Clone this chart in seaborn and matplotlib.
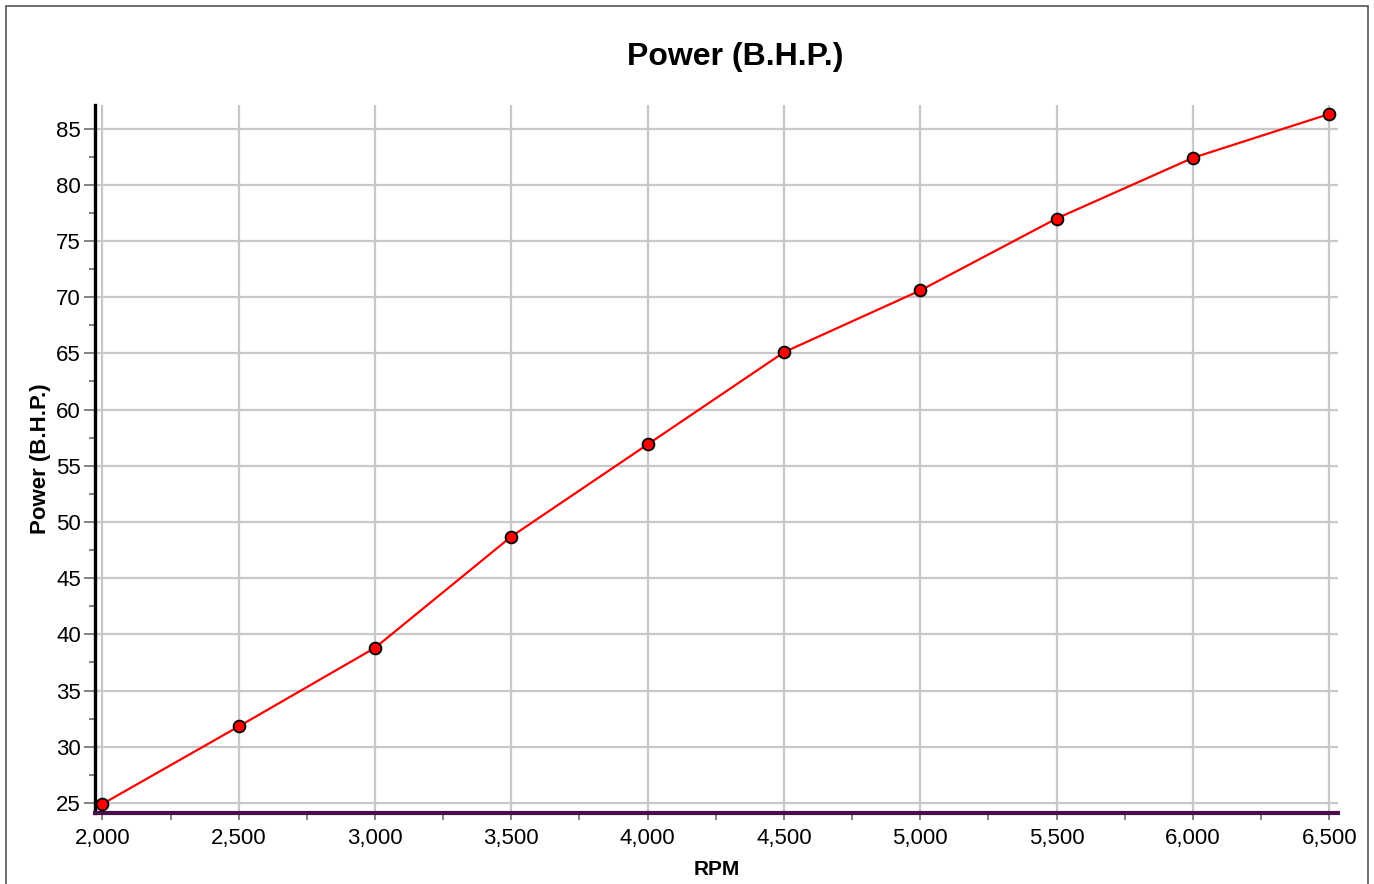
import numpy as np
import pandas as pd
import matplotlib
matplotlib.use("Agg")
import matplotlib.pyplot as plt
from matplotlib.ticker import MultipleLocator, FuncFormatter
from matplotlib.patches import Rectangle
import seaborn as sns

# Data
rpm = [2000, 2500, 3000, 3500, 4000, 4500, 5000, 5500, 6000, 6500]
power_bhp = [24.9, 31.8, 38.8, 48.7, 56.9, 65.1, 70.6, 77.0, 82.4, 86.3]

df = pd.DataFrame({"RPM": rpm, "Power (B.H.P.)": power_bhp})

sns.set_style("white")
plt.rcParams['font.family'] = ['Liberation Sans', 'DejaVu Sans']
plt.rcParams['text.color'] = 'black'
plt.rcParams['axes.labelcolor'] = 'black'
plt.rcParams['xtick.color'] = 'black'
plt.rcParams['ytick.color'] = 'black'

fig = plt.figure(figsize=(13.74, 8.84), dpi=100)
ax = fig.add_axes([95 / 1374, 71 / 884, (1338 - 95) / 1374, (813 - 105) / 884])

sns.lineplot(data=df, x="RPM", y="Power (B.H.P.)", ax=ax, color="red", linewidth=1.6,
             marker="o", markersize=8.5, markerfacecolor="red", markeredgecolor="black",
             markeredgewidth=1.3, zorder=5, clip_on=False)

ax.set_xlim(1973, 6532)
ax.set_ylim(24.1, 87.1)

ax.xaxis.set_major_locator(MultipleLocator(500))
ax.xaxis.set_minor_locator(MultipleLocator(250))
ax.yaxis.set_major_locator(MultipleLocator(5))
ax.yaxis.set_minor_locator(MultipleLocator(2.5))
ax.xaxis.set_major_formatter(FuncFormatter(lambda v, p: f"{int(v):,}"))

ax.grid(True, which="major", color="#c8c8c8", linewidth=1.6)
ax.set_axisbelow(True)

for s in ["top", "right"]:
    ax.spines[s].set_visible(False)
ax.spines["left"].set_color("black")
ax.spines["left"].set_linewidth(2.4)
ax.spines["bottom"].set_color("#4a0f48")
ax.spines["bottom"].set_linewidth(3)

ax.tick_params(axis="both", which="both", bottom=True, left=True, direction="out",
               color="#808080", labelcolor="black")
ax.tick_params(axis="y", which="major", length=8, width=1.4, labelsize=16, pad=2)
ax.tick_params(axis="y", which="minor", length=4, width=1.4)
ax.tick_params(axis="x", which="major", length=5, width=1.4, labelsize=16, pad=6)
ax.tick_params(axis="x", which="minor", length=5, width=1.4)

fig.text(735 / 1374, 1 - 57 / 884, "Power (B.H.P.)", fontsize=23, fontweight="bold",
         ha="center", va="center", color="black")
ax.set_xlabel("RPM", fontsize=15, fontweight="bold", labelpad=8)
ax.set_ylabel("Power (B.H.P.)", fontsize=16, fontweight="bold", labelpad=4)

# outer frame of the chart
fig.patches.append(Rectangle((6 / 1374, -0.01), 1362 / 1374, 1 - 6 / 884 + 0.01,
                             transform=fig.transFigure, fill=False,
                             edgecolor="#555555", linewidth=1.2))

fig.savefig("out.png", dpi=100)
